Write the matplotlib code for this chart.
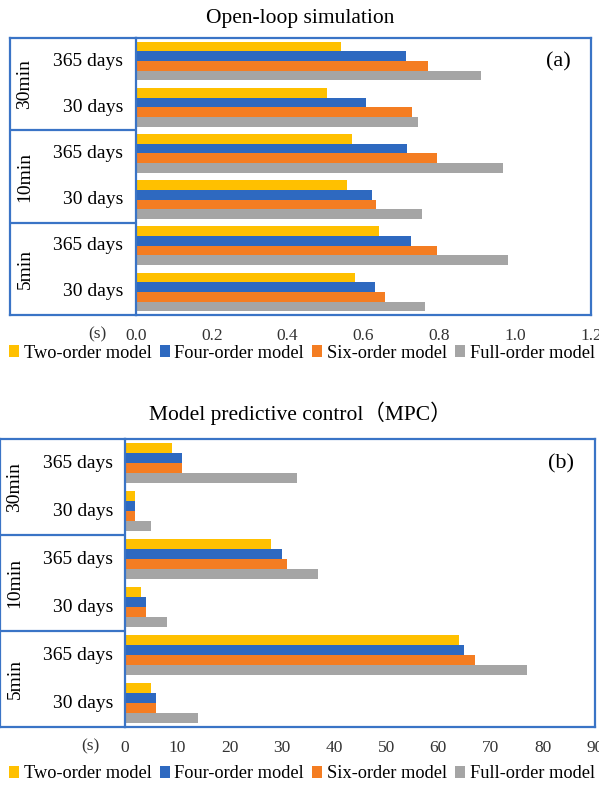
import matplotlib
matplotlib.use("Agg")
import matplotlib.pyplot as plt
from matplotlib.patches import Patch
import numpy as np

plt.rcParams['font.family'] = ['Liberation Serif', 'Noto Sans CJK SC', 'DejaVu Sans']

groups = ["30min", "10min", "5min"]
sub_labels = ["365 days", "30 days", "365 days", "30 days", "365 days", "30 days"]
series = ["Two-order model", "Four-order model", "Six-order model", "Full-order model"]
colors = ["#FFC000", "#2E69C0", "#F47D22", "#A5A5A5"]

# Panel (a): Open-loop simulation (s), rows top->bottom
open_two = [0.54, 0.505, 0.57, 0.557, 0.642, 0.578]
open_four = [0.713, 0.607, 0.716, 0.622, 0.724, 0.631]
open_six = [0.771, 0.727, 0.793, 0.634, 0.793, 0.656]
open_full = [0.911, 0.744, 0.969, 0.755, 0.980, 0.763]
open_ticks = [0.0, 0.2, 0.4, 0.6, 0.8, 1.0, 1.2]

# Panel (b): MPC (s)
mpc_two = [9, 2, 28, 3, 64, 5]
mpc_four = [11, 2, 30, 4, 65, 6]
mpc_six = [11, 2, 31, 4, 67, 6]
mpc_full = [33, 5, 37, 8, 77, 14]
mpc_ticks = [0, 10, 20, 30, 40, 50, 60, 70, 80, 90]

W, H = 599, 785
fig = plt.figure(figsize=(W / 100, H / 100), dpi=100)
border = "#3A74C6"


def rect(x0, y0, x1, y1):
    return [x0 / W, 1 - y1 / H, (x1 - x0) / W, (y1 - y0) / H]


def panel(vals, ticks, fmt, title, tag, xl, xm, xr, yt, yb, title_y, lab_x, grp_x, legend_y, s_x):
    n = len(sub_labels)
    ypos = np.arange(n)
    h = 0.21
    ax = fig.add_axes(rect(xm, yt, xr, yb))
    for j, (v, c) in enumerate(zip(vals, colors)):
        ax.barh(ypos + (j - 1.5) * h, v, height=h, color=c, label=series[j])
    ax.set_ylim(n - 0.5, -0.5)
    ax.set_xlim(ticks[0], ticks[-1])
    ax.set_xticks(ticks)
    ax.set_xticklabels([fmt.format(t) for t in ticks], fontsize=12.5, color="#333333")
    ax.set_yticks([])
    ax.tick_params(axis='x', length=0, pad=9)
    for sp in ax.spines.values():
        sp.set_color(border)
        sp.set_linewidth(1.6)
    ax.text(0.955, 0.915, tag, transform=ax.transAxes, ha='right', va='center', fontsize=16)

    axl = fig.add_axes(rect(xl, yt, xm, yb))
    axl.set_ylim(n - 0.5, -0.5)
    axl.set_xlim(0, 1)
    axl.set_xticks([])
    axl.set_yticks([])
    axl.patch.set_alpha(0)
    for sp in axl.spines.values():
        sp.set_color(border)
        sp.set_linewidth(1.6)
    axl.spines['right'].set_visible(False)
    for b in [1.5, 3.5]:
        axl.axhline(b, color=border, lw=1.6)
    lx = (lab_x - xl) / (xm - xl)
    for i, s in enumerate(sub_labels):
        axl.text(lx, i, s, ha='right', va='center', fontsize=14)
    gx = (grp_x - xl) / (xm - xl)
    for g, gname in enumerate(groups):
        axl.text(gx, 2 * g + 0.5, gname, ha='center', va='center', rotation=90, fontsize=14)

    fig.text(300 / W, 1 - title_y / H, title, ha='center', va='center', fontsize=15.5)
    fig.text(s_x / W, 1 - (yb + 19) / H, "(s)", ha='center', va='center', fontsize=12.5, color="#333333")
    handles = [Patch(facecolor=c, edgecolor='none') for c in colors]
    fig.legend(handles, series, loc='center', bbox_to_anchor=(302 / W, 1 - legend_y / H),
               ncol=4, frameon=False, fontsize=13.2, handlelength=0.55, handleheight=0.55,
               handletextpad=0.25, columnspacing=0.45, borderaxespad=0, borderpad=0)
    return ax


panel([open_two, open_four, open_six, open_full], open_ticks, "{:.1f}",
      "Open-loop simulation", "(a)", 10, 136, 591, 38, 315, 18, 123, 25, 353, 97)
panel([mpc_two, mpc_four, mpc_six, mpc_full], mpc_ticks, "{:d}",
      "Model predictive control（MPC）", "(b)", 0, 125, 595, 439, 727, 413, 113, 15, 774, 90)

fig.savefig("out.png", dpi=100)
